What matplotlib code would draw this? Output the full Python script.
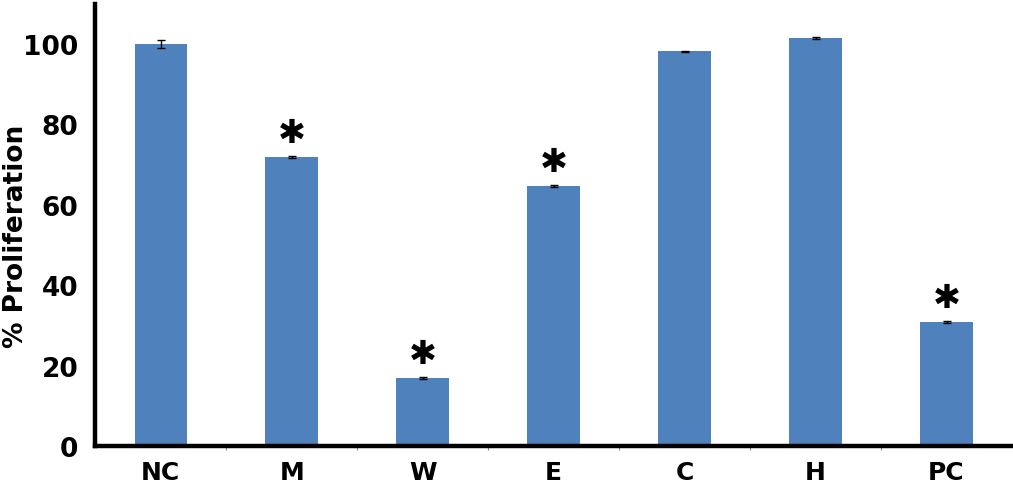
import matplotlib
matplotlib.use("Agg")
import matplotlib.pyplot as plt
import numpy as np

plt.rcParams.update({
    "font.family": ["DejaVu Sans"],
    "font.weight": "bold",
})

# ── Data ───────────────────────────────────────────────────────────────────────
groups = ["NC", "M", "W", "E", "C", "H", "PC"]
proliferation = [100.0, 71.9, 16.9, 64.7, 98.2, 101.5, 30.8]
errors = [0.9, 0.2, 0.3, 0.2, 0.2, 0.2, 0.2]
significant = [False, True, True, True, False, False, True]

BAR_BLUE = "#4f81bd"

# ── Figure ─────────────────────────────────────────────────────────────────────
fig = plt.figure(figsize=(10.13, 4.89), dpi=100)
ax = fig.add_axes([0.094, 0.086, 0.905, 0.904])

x = np.arange(len(groups))
ax.bar(x, proliferation, width=0.40, color=BAR_BLUE, zorder=2)
ax.errorbar(x, proliferation, yerr=errors, fmt="none", ecolor="black",
            elinewidth=1, capsize=3, capthick=1, zorder=3)

# significance markers
for xi, val, sig in zip(x, proliferation, significant):
    if sig:
        ax.text(xi, val + 6.2, "\u2731", ha="center", va="center",
                fontsize=24, color="black", family="DejaVu Sans")

ax.set_xlim(-0.5, len(groups) - 0.5)
ax.set_ylim(0, 110)
ax.set_yticks([0, 20, 40, 60, 80, 100])
ax.set_xticks(x)
ax.set_xticklabels(groups)
ax.set_xticks(np.arange(0.5, len(groups) - 1, 1), minor=True)

ax.tick_params(axis="y", length=0, pad=12, labelsize=19)
ax.tick_params(axis="x", which="major", length=0, pad=10, labelsize=18)
ax.tick_params(axis="x", which="minor", length=3, width=0.8, direction="out",
               color="#888888")

fig.text(0.016, 0.517, "% Proliferation", rotation=90, ha="center",
         va="center", fontsize=19, fontweight="bold")

for side in ["top", "right"]:
    ax.spines[side].set_visible(False)
for side in ["left", "bottom"]:
    ax.spines[side].set_linewidth(3.2)

fig.savefig("out.png", dpi=100)
